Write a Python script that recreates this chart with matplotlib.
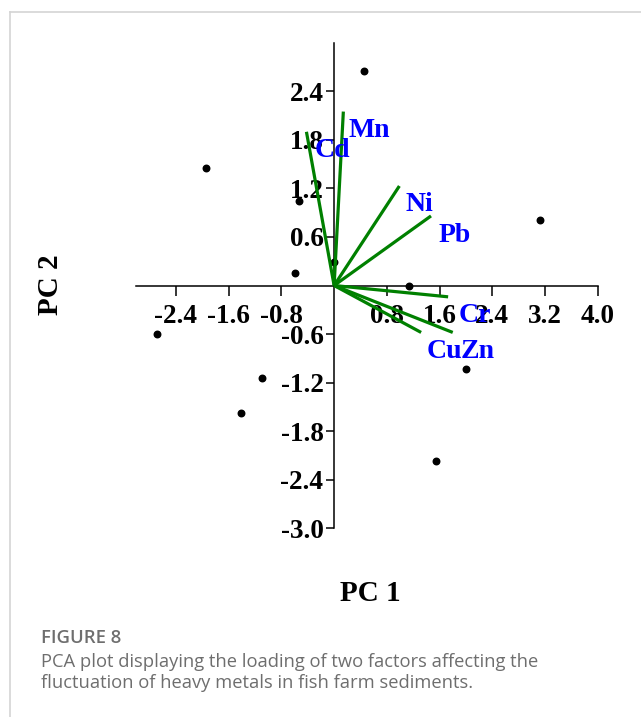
import matplotlib
matplotlib.use("Agg")
import matplotlib.pyplot as plt
from matplotlib.lines import Line2D

# sample scores (PC1, PC2)
score_x = [0.45, -1.94, -0.53, -0.60, 0.0, 1.14, 3.13, -2.69, -1.09, 2.0, -1.41, 1.54]
score_y = [2.65, 1.45, 1.05, 0.15, 0.29, 0.0, 0.81, -0.60, -1.14, -1.03, -1.58, -2.17]

# metal loadings
metals = ['Cd', 'Mn', 'Ni', 'Pb', 'Cr', 'Zn', 'Cu']
load_x = [-0.42, 0.14, 0.99, 1.47, 1.73, 1.80, 1.32]
load_y = [1.90, 2.15, 1.23, 0.86, -0.14, -0.58, -0.58]
lab_x = [-0.30, 0.215, 1.08, 1.58, 1.885, 1.915, 1.405]
lab_y = [1.585, 1.83, 0.92, 0.54, -0.455, -0.90, -0.90]

xticks = [-2.4, -1.6, -0.8, 0.8, 1.6, 2.4, 3.2, 4.0]
yticks = [-3.0, -2.4, -1.8, -1.2, -0.6, 0.6, 1.2, 1.8, 2.4]

serif = 'Liberation Serif'

fig = plt.figure(figsize=(6.41, 7.17), dpi=100)
ax = fig.add_axes([0.2128, 0.2633, 0.7197, 0.677])

ax.scatter(score_x, score_y, s=22, color='black', zorder=3)
for lx, ly in zip(load_x, load_y):
    ax.plot([0, lx], [0, ly], color='#008000', lw=2.3, zorder=4, solid_capstyle='butt')
for m, tx, ty in zip(metals, lab_x, lab_y):
    ax.text(tx, ty, m, color='#0000ff', fontsize=20, fontweight='bold',
            family=serif, ha='left', va='baseline', zorder=5)

ax.set_xlim(-3.0, 4.0)
ax.set_ylim(-3.0, 3.0)
ax.spines['left'].set_position(('data', 0))
ax.spines['bottom'].set_position(('data', 0))
ax.spines['top'].set_visible(False)
ax.spines['right'].set_visible(False)
for s in ['left', 'bottom']:
    ax.spines[s].set_linewidth(1.1)

ax.set_xticks(xticks)
ax.set_xticklabels(['%.1f' % v for v in xticks])
ax.set_yticks(yticks)
ax.set_yticklabels(['%.1f' % v for v in yticks])
ax.tick_params(axis='x', direction='out', length=7, width=1.1, pad=6.5)
ax.tick_params(axis='y', direction='out', length=5.5, width=1.1, pad=2.2)
for lab in ax.get_xticklabels() + ax.get_yticklabels():
    lab.set_fontsize(19.5)
    lab.set_fontweight('bold')
    lab.set_family(serif)

ax.set_xlabel('PC 1', fontsize=21, fontweight='bold', family=serif)
ax.set_ylabel('PC 2', fontsize=21, fontweight='bold', family=serif)
ax.xaxis.set_label_coords(0.506, -0.106)
ax.yaxis.set_label_coords(-0.158, 0.501)

# card border
fig.add_artist(Line2D([9.5 / 641, 9.5 / 641], [0, 1 - 12 / 717], transform=fig.transFigure,
                      color='#d4d4d4', lw=1.2))
fig.add_artist(Line2D([9.5 / 641, 1], [1 - 12 / 717, 1 - 12 / 717], transform=fig.transFigure,
                      color='#d4d4d4', lw=1.2))

# caption
fig.text(41 / 641, 1 - 642.7 / 717, 'FIGURE 8', fontsize=13.3, fontweight='semibold',
         family='Open Sans', color='#6e6e6e', va='baseline')
fig.text(41 / 641, 1 - 667.3 / 717, 'PCA plot displaying the loading of two factors affecting the',
         fontsize=13.2, family='Open Sans', color='#6e6e6e', va='baseline')
fig.text(41 / 641, 1 - 688.3 / 717, 'fluctuation of heavy metals in fish farm sediments.',
         fontsize=13.2, family='Open Sans', color='#6e6e6e', va='baseline')

fig.savefig('out.png', dpi=100)
